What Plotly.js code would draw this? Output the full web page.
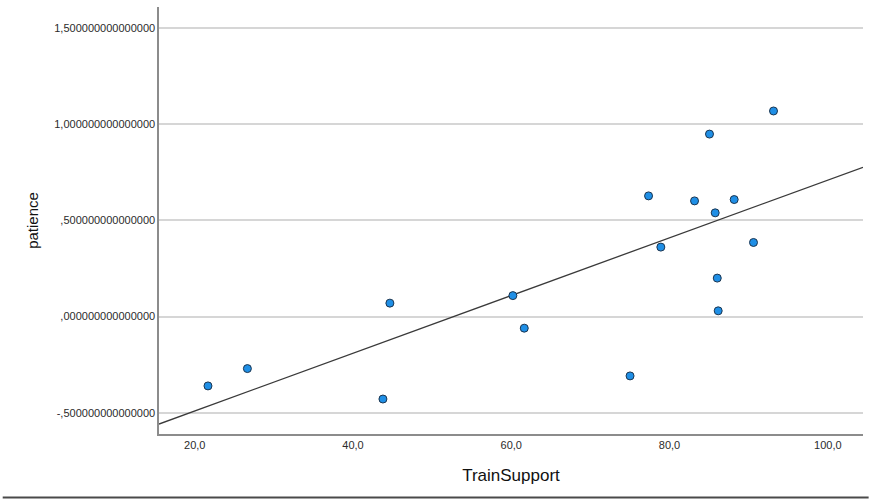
<!DOCTYPE html>
<html>
<head>
<meta charset="utf-8">
<script src="https://cdn.plot.ly/plotly-3.0.1.min.js"></script>
<style>html,body{margin:0;padding:0;background:#fff;}#chart{width:869px;height:499px;}</style>
</head>
<body>
<div id="chart"></div>
<script>
// TrainSupport (x) and patience (y)
const trainSupport = [21.67, 26.65, 43.78, 44.66, 60.20, 61.64, 75.01, 77.35, 78.90, 83.16, 85.05, 85.77, 86.03, 86.15, 88.17, 90.61, 93.14];
const patience     = [-0.360, -0.270, -0.428, 0.070, 0.109, -0.060, -0.308, 0.627, 0.361, 0.601, 0.948, 0.539, 0.200, 0.030, 0.608, 0.385, 1.068];
// Fit line: [intercept, slope]
const fitLine = [-0.790, 0.01499];
const xTickVals = [20, 40, 60, 80, 100];
const xTickText = ["20,0", "40,0", "60,0", "80,0", "100,0"];
const yTickVals = [-0.5, 0, 0.5, 1, 1.5];
const yTickText = ["-,500000000000000", ",000000000000000", ",500000000000000", "1,000000000000000", "1,500000000000000"];
const xRange = [15.48, 104.45];
const yRange = [-0.6097, 1.608];

const fitX = [xRange[0], xRange[1]];
const fitY = fitX.map(v => fitLine[0] + fitLine[1] * v);

const font = "'Liberation Sans', Arial, sans-serif";

const data = [
  {
    x: fitX, y: fitY, type: 'scatter', mode: 'lines',
    line: {color: '#3a3a3a', width: 1.3},
    hoverinfo: 'skip', showlegend: false
  },
  {
    x: trainSupport, y: patience, type: 'scatter', mode: 'markers',
    marker: {size: 8, color: '#1f8fe6', line: {color: '#1b3550', width: 1}},
    showlegend: false
  }
];

const layout = {
  width: 869, height: 499,
  margin: {l: 159.3, r: 5.5, t: 7.3, b: 65, pad: 0},
  paper_bgcolor: '#ffffff', plot_bgcolor: '#ffffff',
  font: {family: font, color: '#2b2b2b', size: 11},
  showlegend: false,
  xaxis: {
    range: xRange, tickvals: xTickVals, ticktext: xTickText,
    showgrid: false, zeroline: false,
    showline: true, linecolor: '#8c8c8c', linewidth: 1.6,
    ticks: '', tickfont: {family: font, size: 11, color: '#2b2b2b'},
    title: {text: 'TrainSupport', font: {family: font, size: 17, color: '#111111'}, standoff: 19},
    automargin: false, fixedrange: true
  },
  yaxis: {
    range: yRange, tickvals: yTickVals, ticktext: yTickText,
    showgrid: true, gridcolor: '#d6d6d6', gridwidth: 1.8,
    zeroline: false,
    showline: true, linecolor: '#8c8c8c', linewidth: 1.6,
    ticks: '', tickfont: {family: font, size: 11, color: '#2b2b2b'},
    title: {text: 'patience', font: {family: font, size: 15, color: '#111111'}, standoff: 12},
    automargin: false, fixedrange: true
  },
  shapes: [
    {type: 'line', xref: 'paper', yref: 'paper', x0: -0.222, x1: 1.008, y0: -0.1488, y1: -0.1488,
     line: {color: '#4a4a4a', width: 2}}
  ]
};

Plotly.newPlot('chart', data, layout, {displayModeBar: false, staticPlot: true});
</script>
</body>
</html>
